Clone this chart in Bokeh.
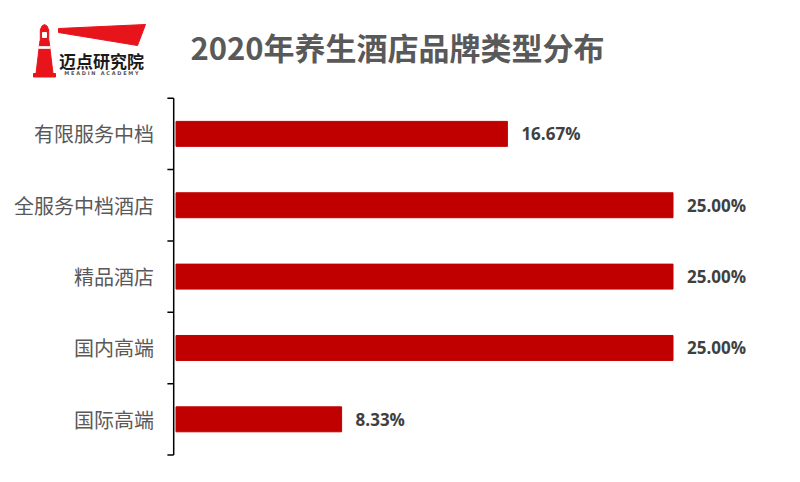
from bokeh.plotting import figure
from bokeh.models import Range1d
from bokeh.embed import file_html
from bokeh.resources import INLINE
from bokeh.core.properties import value

# ---- data ----
categories = ["有限服务中档", "全服务中档酒店", "精品酒店", "国内高端", "国际高端"]
shares = [16.67, 25.00, 25.00, 25.00, 8.33]
title_text = "2020年养生酒店品牌类型分布"
logo_text = "迈点研究院"
logo_sub = "\u00a0".join("MEADIN") + "\u00a0\u00a0\u00a0" + "\u00a0".join("ACADEMY")

CJK = "Noto Sans CJK SC"
RED = "#C00000"
LOGO_RED = "#E8141B"

W, H = 784, 466
# screen layout of the plotting area (pixels)
X0_PX = 175.5          # where 0 % sits
KX = 19.88             # pixels per percent
Y0_PX = 454.5          # bottom of the category band (from top)
Y5_PX = 97.7           # top of the category band
n = len(categories)
KY = (Y0_PX - Y5_PX) / n

x_range = Range1d(-X0_PX / KX, (W - X0_PX) / KX)
y_range = Range1d(-(H - Y0_PX) / KY, n + Y5_PX / KY)


def px(X):  # pixel -> data x (decorations only)
    return (X - X0_PX) / KX


def py(Y):  # pixel -> data y (decorations only)
    return n + (Y5_PX - Y) / KY


p = figure(width=W, height=H, x_range=x_range, y_range=y_range,
           output_backend="svg", toolbar_location=None,
           x_axis_location=None, y_axis_location=None, min_border=0)
p.title.visible = False
p.outline_line_color = None
p.grid.visible = False

# ---- header: logo ----
p.patch([px(v) for v in [40, 41.5, 44, 46.5, 48]], [py(v) for v in [29, 25.5, 24, 25.5, 29]], color=LOGO_RED)
p.patch([px(v) for v in [39.8, 48.2, 48.2, 39.8]], [py(v) for v in [29, 29, 40, 40]], color=LOGO_RED)
p.patch([px(v) for v in [42, 46, 46, 42]], [py(v) for v in [32, 32, 37, 37]], color="white")
p.patch([px(v) for v in [39.5, 48.5, 52.5, 35.5]], [py(v) for v in [40, 40, 73, 73]], color=LOGO_RED)
p.patch([px(v) for v in [38.5, 49.5, 49.7, 38.3]], [py(v) for v in [46.2, 46.2, 47.8, 47.8]], color="white")
p.patch([px(v) for v in [33, 55, 55, 33]], [py(v) for v in [73, 73, 76.5, 76.5]], color=LOGO_RED)
p.patch([px(v) for v in [58, 145, 137, 58]], [py(v) for v in [28, 24, 45, 32]], color=LOGO_RED)
p.text(x=[px(101)], y=[py(60)], text=[logo_text], text_align="center", text_baseline="middle",
       text_font=value(CJK), text_font_style="bold", text_font_size="17px", text_color="#1A1A1A")
p.text(x=[px(101)], y=[py(72.5)], text=[logo_sub], text_align="center", text_baseline="middle",
       text_font=value("DejaVu Sans"), text_font_style="bold", text_font_size="5px", text_color="#555555")

# ---- title ----
p.text(x=[px(397)], y=[py(46)], text=[title_text], text_align="center", text_baseline="middle",
       text_font=value(CJK), text_font_style="bold", text_font_size="31px", text_color="#595959")

# ---- bars ----
pos = [n - 0.5 - i for i in range(n)]
labels = [f"{v:.2f}%" for v in shares]
p.hbar(y=pos, right=shares, left=0, height=0.35, color=RED)
p.text(x=shares, y=pos, text=labels, x_offset=14, text_baseline="middle",
       text_font=value("Open Sans"), text_font_style="bold", text_font_size="17px",
       text_color="#404040")

# ---- category axis (line, boundary ticks, labels) ----
axis_x = -2.3 / KX
tick_len = 6.3 / KX
bounds = list(range(n + 1))
p.segment(x0=[axis_x], y0=[0], x1=[axis_x], y1=[n], line_color="black", line_width=1.5)
p.segment(x0=[axis_x - tick_len] * len(bounds), y0=bounds, x1=[axis_x] * len(bounds), y1=bounds,
          line_color="black", line_width=1.5)
p.text(x=[0] * n, y=pos, text=categories, x_offset=-22, text_align="right", text_baseline="middle",
       text_font=value(CJK), text_font_size="20px", text_color="#595959")

open("out.html", "w").write(file_html(p, INLINE))
